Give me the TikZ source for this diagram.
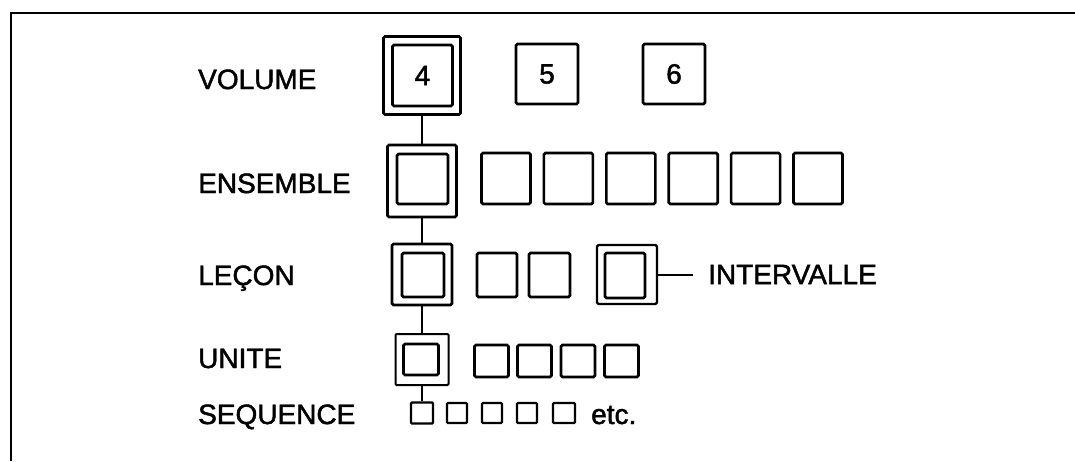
\documentclass[tikz,border=0pt]{standalone}
\usepackage{fontspec}
\setmainfont[FakeBold=1.6]{Liberation Sans}
\begin{document}
\begin{tikzpicture}[x=1pt,y=-1pt,
  lab/.style={inner sep=0pt, font=\fontsize{28pt}{30pt}\selectfont},
  bx/.style={draw, rectangle, rounded corners=1.5pt, line width=2.6pt, inner sep=0pt, font=\fontsize{28pt}{30pt}\selectfont},
  thinbx/.style={draw, rectangle, rounded corners=1pt, line width=2pt, inner sep=0pt},
  link/.style={line width=2pt},
  frame/.style={line width=2pt}]
\useasboundingbox (0,0) rectangle (1075,461);
\draw[frame] (1075,13) -- (11,13) -- (11,461);

% labels
\node[lab, anchor=base west] (tvol) at (198,89) {VOLUME};
\node[lab, anchor=base west] (tens) at (198,193) {ENSEMBLE};
\node[lab, anchor=base west] (tlec) at (198,285) {LEÇON};
\node[lab, anchor=base west] (tuni) at (198,368) {UNITE};
\node[lab, anchor=base west] (tseq) at (198,424) {SEQUENCE};

% volume row
\node[bx, minimum width=77pt, minimum height=78pt] (v4o) at (422,75.5) {};
\node[bx, minimum width=60pt, minimum height=61pt] (v4i) at (422.5,75.5) {4};
\node[bx, minimum width=62pt, minimum height=60pt] (v5) at (547,74) {5};
\node[bx, minimum width=62pt, minimum height=60pt] (v6) at (674,74) {6};

% ensemble row
\node[bx, minimum width=69pt, minimum height=72pt] (e0o) at (422,181) {};
\node[bx, minimum width=51pt, minimum height=50pt] (e0i) at (422.5,179) {};
\foreach \i/\xx in {1/506,2/568.4,3/630.8,4/693.2,5/755.6,6/818}
  \node[bx, minimum width=49pt, minimum height=51pt] (e\i) at (\xx,178.5) {};

% lecon row
\node[bx, minimum width=60pt, minimum height=61pt] (l0o) at (422,274.5) {};
\node[bx, minimum width=42pt, minimum height=44pt] (l0i) at (423,275) {};
\node[bx, minimum width=40pt, minimum height=44pt] (l1) at (497,275) {};
\node[bx, minimum width=41pt, minimum height=44pt] (l2) at (549.5,275) {};
\node[bx, line width=2.2pt, minimum width=60pt, minimum height=59pt] (lio) at (627,274.5) {};
\node[bx, minimum width=40pt, minimum height=45pt] (lii) at (625,275.5) {};
\node[lab, anchor=west] (tint) at (708,274.5) {INTERVALLE};
\draw[link, shorten >=15pt] (lio.east) -- (tint.west);

% unite row
\node[thinbx, minimum width=53pt, minimum height=51pt] (u0o) at (422,359.5) {};
\node[bx, minimum width=35pt, minimum height=31pt] (u0i) at (421,359.5) {};
\foreach \i/\xx in {1/491.5,2/534.5,3/578,4/621.5}
  \node[bx, minimum width=34pt, minimum height=32pt] (u\i) at (\xx,361) {};

% sequence row
\node[thinbx, line width=2.4pt, minimum width=22pt, minimum height=21pt] (s1) at (422,413) {};
\node[thinbx, line width=2.4pt, minimum width=20pt, minimum height=20pt] (s2) at (457,413) {};
\node[thinbx, line width=2.4pt, minimum width=20pt, minimum height=20pt] (s3) at (492,413) {};
\node[thinbx, line width=2.4pt, minimum width=20pt, minimum height=20pt] (s4) at (527,413) {};
\node[thinbx, line width=2.4pt, minimum width=22pt, minimum height=20pt] (s5) at (564,413) {};
\node[lab, anchor=base west] (tetc) at (591,424) {etc.};

% vertical connectors
\draw[link] (v4o.south) -- (e0o.north);
\draw[link] (e0o.south) -- (l0o.north);
\draw[link] (l0o.south) -- (u0o.north);
\draw[link] (u0o.south) -- (s1.north);
\end{tikzpicture}
\end{document}
